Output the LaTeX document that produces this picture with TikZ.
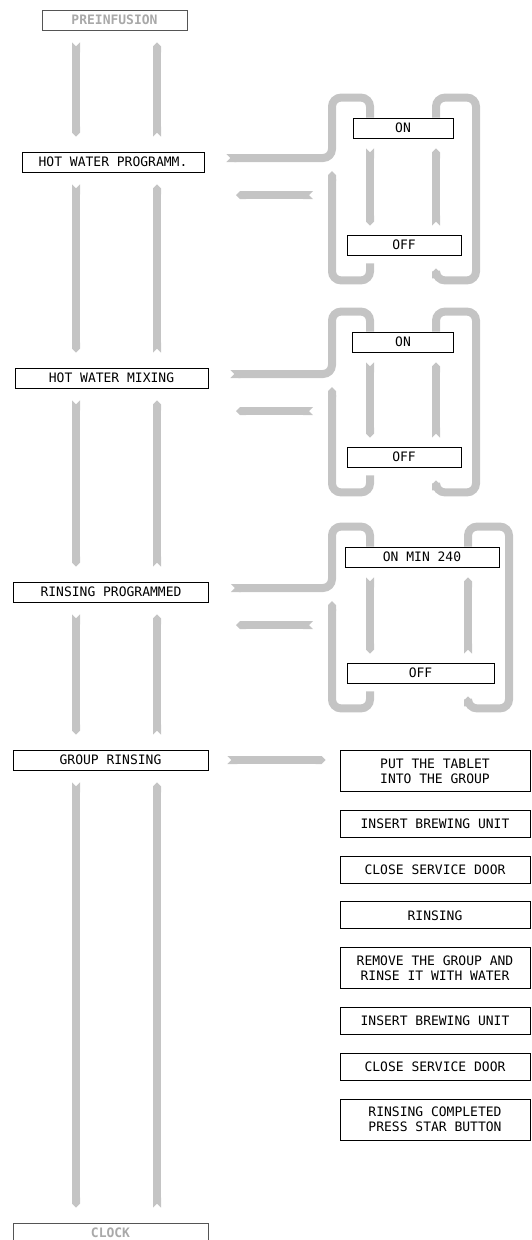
\documentclass[tikz,border=0pt]{standalone}
\usepackage{fontspec}
\usetikzlibrary{positioning,arrows.meta,calc}
\newfontfamily\lcdfont{DejaVu Sans Mono}
\definecolor{bandGray}{HTML}{C4C4C4}
\definecolor{dimText}{HTML}{A9A9A9}
\definecolor{dimFrame}{HTML}{555555}
\tikzset{
  lcd/.style={font=\lcdfont\fontsize{13pt}{15pt}\selectfont},
  menu/.style={lcd, draw=black, line width=0.8pt, minimum height=20pt, inner sep=0pt,
               text height=9.5pt, text depth=0pt},
  dimmed/.style={menu, draw=dimFrame, text=dimText,
                 font=\lcdfont\bfseries\fontsize{13pt}{15pt}\selectfont},
  task/.style={lcd, draw=black, line width=0.8pt, minimum width=190pt, minimum height=27pt,
               inner sep=0pt, align=center},
  band/.style={line width=8pt, draw=bandGray, rounded corners=9pt},
  fwd/.style={band, {Triangle Cap[reversed]}-{Triangle Cap}},
  tail/.style={band, -{Triangle Cap}},
}

\begin{document}
\begin{tikzpicture}[x=1pt, y=-1pt, node distance=18pt]
  \useasboundingbox (0,0) rectangle (531,1240);

  % columns of the bands
  \coordinate (dn) at (76,0);
  \coordinate (up) at (157,0);
  \coordinate (oL) at (332,0);
  \coordinate (iL) at (370,0);
  \coordinate (iR) at (436,0);
  \coordinate (oR) at (476,0);
  \coordinate (iRR) at (468,0);
  \coordinate (oRR) at (509,0);

  % main menu
  \node[dimmed, minimum width=145pt] (pre) at (114.5,20) {PREINFUSION};
  \node[menu, minimum width=182pt] (hwp) at (113,162) {HOT WATER PROGRAMM.};
  \node[menu, minimum width=193pt] (hwm) at (111.5,378) {HOT WATER MIXING};
  \node[menu, minimum width=195pt] (rp) at (111,592) {RINSING PROGRAMMED};
  \node[menu, minimum width=195pt] (gr) at (110.5,760) {GROUP RINSING};
  \node[dimmed, minimum width=195pt] (clk) at (110.5,1233) {CLOCK};

  % settings
  \node[menu, minimum width=100pt] (on1) at (403,128) {ON};
  \node[menu, minimum width=114pt] (off1) at (404,245) {OFF};
  \node[menu, minimum width=101pt] (on2) at (403,342) {ON};
  \node[menu, minimum width=114pt] (off2) at (404,457) {OFF};
  \node[menu, minimum width=154pt] (on3) at (422,557) {ON MIN 240};
  \node[menu, minimum width=147pt] (off3) at (420.5,673) {OFF};

  % rinsing steps
  \node[task, minimum height=41pt, anchor=north] (t1) at (435,750) {PUT THE TABLET\\INTO THE GROUP};
  \node[task, below=of t1] (t2) {INSERT BREWING UNIT};
  \node[task, below=of t2] (t3) {CLOSE SERVICE DOOR};
  \node[task, below=of t3] (t4) {RINSING};
  \node[task, minimum height=41pt, below=of t4] (t5) {REMOVE THE GROUP AND\\RINSE IT WITH WATER};
  \node[task, below=of t5] (t6) {INSERT BREWING UNIT};
  \node[task, below=of t6] (t7) {CLOSE SERVICE DOOR};
  \node[task, minimum height=41pt, below=of t7] (t8) {RINSING COMPLETED\\PRESS STAR BUTTON};

  \foreach \a/\b in {pre/hwp, hwp/hwm, hwm/rp, rp/gr, gr/clk} {
    \draw[fwd, shorten <=12pt, shorten >=15pt] (\a.south -| dn) -- (\b.north -| dn);
    \draw[fwd, shorten <=15pt, shorten >=12pt] (\b.north -| up) -- (\a.south -| up);
  }

  \foreach \m/\on/\off/\inr/\outr in {hwp/on1/off1/iR/oR, hwm/on2/off2/iR/oR, rp/on3/off3/iRR/oRR} {
    \draw[band, {Triangle Cap[reversed]}-] ([shift={(22,-4)}]\m.east)
      -| ($(\on.north -| oL)+(0,-20)$) -| (\on.north -| iL);
    \draw[tail] (\on.north -| \inr) |- ($(\on.north -| \outr)+(0,-20)$)
      |- ($(\off.south -| \inr)+(0,25)$) -- ($(\off.south -| \inr)+(0,13)$);
    \draw[tail] ($(\off.south -| iL)+(0,8)$) -- ($(\off.south -| iL)+(0,25)$)
      -| ($(\m.east -| oL)+(0,9)$);
    \draw[fwd] ($(\m.east -| oL)+(-19,33)$) -- ($(\m.east -| oL)+(-96,33)$);
    \draw[fwd, shorten <=10pt, shorten >=9pt] (\on.south -| iL) -- (\off.north -| iL);
    \draw[fwd, shorten <=9pt, shorten >=10pt] (\off.north -| \inr) -- (\on.south -| \inr);
  }

  \draw[fwd, shorten <=19pt, shorten >=14pt] (gr.east) -- (gr.east -| t1.west);
\end{tikzpicture}
\end{document}
